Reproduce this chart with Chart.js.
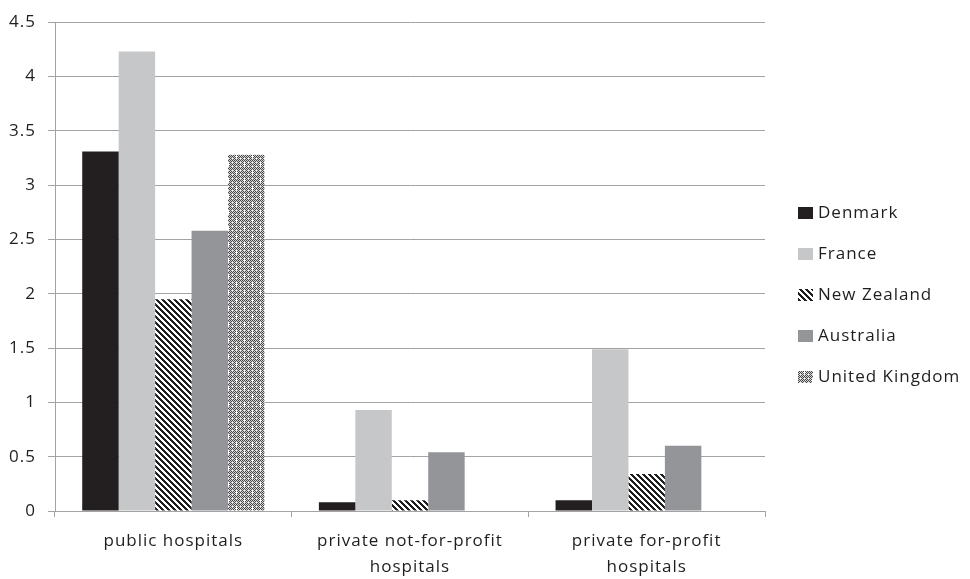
<!DOCTYPE html>
<html>
<head>
<meta charset="utf-8">
<script src="https://cdn.jsdelivr.net/npm/chart.js@4"></script>
<style>
  html, body { margin: 0; padding: 0; background: #ffffff; }
  canvas { display: block; }
</style>
</head>
<body>
<canvas id="chart" width="970" height="579"></canvas>
<script>
// Hospital categories and per-country values
const categories = [
  'public hospitals',
  ['private not-for-profit', 'hospitals'],
  ['private for-profit', 'hospitals']
];
const countries = ['Denmark', 'France', 'New Zealand', 'Australia', 'United Kingdom'];
const denmark = [3.31, 0.08, 0.10];
const france = [4.23, 0.93, 1.49];
const newZealand = [1.95, 0.10, 0.34];
const australia = [2.58, 0.54, 0.60];
const unitedKingdom = [3.28, 0, 0];
const yTicks = [0, 0.5, 1, 1.5, 2, 2.5, 3, 3.5, 4, 4.5];

const FONT = { family: '"Open Sans", sans-serif', size: 17 };
const TEXT = '#1e1e1e';
const GRID = '#a3a3a3';
const SPACING = '1px';

// Diagonal black/white stripes
function stripePattern() {
  const c = document.createElement('canvas');
  c.width = 6; c.height = 6;
  const g = c.getContext('2d');
  const img = g.createImageData(6, 6);
  for (let y = 0; y < 6; y++) {
    for (let x = 0; x < 6; x++) {
      const i = (y * 6 + x) * 4;
      const k = ((x - y) % 6 + 6) % 6;
      const v = k < 3 ? 30 : 255;
      img.data[i] = v; img.data[i + 1] = v; img.data[i + 2] = v; img.data[i + 3] = 255;
    }
  }
  g.putImageData(img, 0, 0);
  return g.createPattern(c, 'repeat');
}

// Fine grey checker with white dotted crosses
function dotPattern() {
  const n = 16;
  const c = document.createElement('canvas');
  c.width = n; c.height = n;
  const g = c.getContext('2d');
  const img = g.createImageData(n, n);
  const white = new Set();
  [[4, 4], [12, 12]].forEach(([cx, cy]) => {
    [[0, 0], [1, 0], [-1, 0], [0, 1], [0, -1]].forEach(([dx, dy]) => {
      white.add(((cx + dx + n) % n) + ',' + ((cy + dy + n) % n));
    });
  });
  for (let y = 0; y < n; y++) {
    for (let x = 0; x < n; x++) {
      const i = (y * n + x) * 4;
      let v = (x + y) % 2 === 0 ? 70 : 215;
      if (x % 4 === 0 && y % 4 === 2) v = 245;
      if (white.has(x + ',' + y)) v = 255;
      img.data[i] = v; img.data[i + 1] = v; img.data[i + 2] = v; img.data[i + 3] = 255;
    }
  }
  g.putImageData(img, 0, 0);
  return g.createPattern(c, 'repeat');
}

const fills = ['#231f20', '#c6c7c9', stripePattern(), '#939598', dotPattern()];
const series = [denmark, france, newZealand, australia, unitedKingdom];

// Text spacing applied to the chart context whenever it is (re)drawn
const spacingPlugin = {
  id: 'spacing',
  beforeUpdate(chart) { chart.ctx.letterSpacing = SPACING; },
  beforeDraw(chart) { chart.ctx.letterSpacing = SPACING; }
};

// Legend column on the right, built from the datasets
const sideLegend = {
  id: 'sideLegend',
  afterDraw(chart) {
    const ctx = chart.ctx;
    ctx.save();
    ctx.letterSpacing = SPACING;
    ctx.font = `${FONT.size}px ${FONT.family}`;
    ctx.textBaseline = 'middle';
    ctx.textAlign = 'left';
    chart.data.datasets.forEach((ds, i) => {
      const cy = 213 + i * 41;
      ctx.fillStyle = ds.backgroundColor;
      ctx.fillRect(798, cy - 6, 15, 12);
      ctx.fillStyle = TEXT;
      ctx.fillText(ds.label, 818, cy);
    });
    ctx.restore();
  }
};

new Chart(document.getElementById('chart'), {
  type: 'bar',
  data: {
    labels: categories,
    datasets: countries.map((name, i) => ({
      label: name,
      data: series[i],
      backgroundColor: fills[i],
      borderWidth: 0,
      categoryPercentage: 0.77,
      barPercentage: 1.0
    }))
  },
  options: {
    responsive: false,
    animation: false,
    devicePixelRatio: 1,
    layout: { padding: { top: 15, right: 205, bottom: 0, left: 0 } },
    plugins: {
      legend: { display: false },
      tooltip: { enabled: false }
    },
    scales: {
      x: {
        grid: { drawOnChartArea: false, drawTicks: true, tickLength: 6, color: GRID, offset: true },
        border: { color: GRID, width: 1 },
        ticks: { color: TEXT, font: { ...FONT, lineHeight: 1.53 }, padding: 11, maxRotation: 0, autoSkip: false },
        afterFit(scale) { scale.height = 68; }
      },
      y: {
        min: 0,
        max: 4.5,
        afterBuildTicks(scale) { scale.ticks = yTicks.map(v => ({ value: v })); },
        grid: { color: GRID, tickLength: 7, lineWidth: 1 },
        border: { color: GRID, width: 1 },
        ticks: { color: TEXT, font: FONT, padding: 12, callback: v => String(v) },
        afterFit(scale) { scale.width = 55; }
      }
    }
  },
  plugins: [spacingPlugin, sideLegend]
});
</script>
</body>
</html>
